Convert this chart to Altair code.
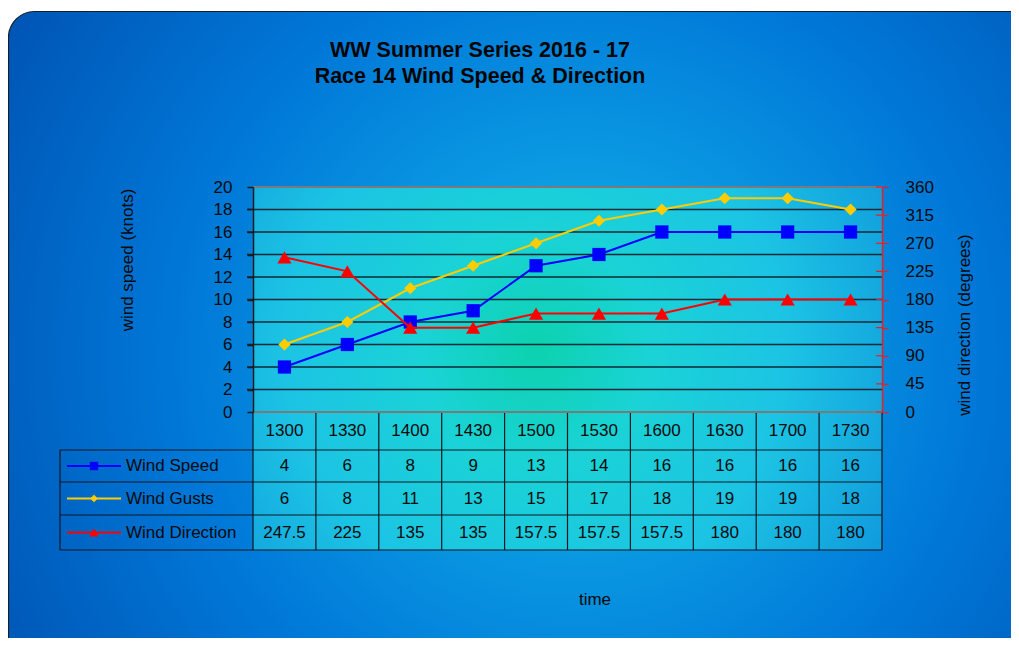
import altair as alt
import pandas as pd

# ---------------- data ----------------
times = ["1300", "1330", "1400", "1430", "1500", "1530", "1600", "1630", "1700", "1730"]
wind_speed = [4, 6, 8, 9, 13, 14, 16, 16, 16, 16]
wind_gusts = [6, 8, 11, 13, 15, 17, 18, 19, 19, 18]
wind_dir = [247.5, 225, 135, 135, 157.5, 157.5, 157.5, 180, 180, 180]
speed_ticks = [0, 2, 4, 6, 8, 10, 12, 14, 16, 18, 20]
dir_ticks = [0, 45, 90, 135, 180, 225, 270, 315, 360]
title_lines = ["WW Summer Series 2016 -  17", "Race 14 Wind Speed & Direction"]
series_names = ["Wind Speed", "Wind Gusts", "Wind Direction"]
y_title_left = "wind speed (knots)"
y_title_right = "wind direction (degrees)"
x_title = "time"

n = len(times)
df = pd.DataFrame({"idx": list(range(n)), "time": times, "speed": wind_speed,
                   "gusts": wind_gusts, "dir": wind_dir})

# ---------------- layout / style ----------------
W, H = 629, 225
TB = 363
FONT = "Liberation Sans"
BLUE, YELLOW, RED = "#0000ff", "#ffcc00", "#ff0000"
GRID = "#0e2a36"
one = pd.DataFrame({"a": [0]})

xscale = alt.Scale(domain=[-0.5, n - 0.5], nice=False, zero=False)
xenc = alt.X("idx:Q", scale=xscale, axis=None)

left_scale = alt.Scale(domain=[0, 20], nice=False)
left_axis = alt.Axis(values=speed_ticks, title=None, grid=False, domainColor="#1a1a1a",
                     domainWidth=1.5, tickColor="#1a1a1a", tickSize=6, tickWidth=1.5,
                     labelFont=FONT, labelFontSize=17, labelColor="#0a0a0a",
                     labelPadding=15, zindex=1)
dir_scale = alt.Scale(domain=[0, 360], nice=False)
right_axis = alt.Axis(orient="right", values=dir_ticks, title=None, grid=False,
                      domainColor="#f01e1e", domainWidth=1.5, tickColor="#f01e1e",
                      tickSize=6, tickWidth=1.2, labelFont=FONT, labelFontSize=17,
                      labelColor="#0a0a0a", labelPadding=17, zindex=1)

# ---------------- backgrounds ----------------
bg = alt.Chart(one).mark_rect(
    cornerRadius=26, stroke="#16202c", strokeWidth=1.2,
    fill=alt.RadialGradient(gradient="radial", x1=0.53, y1=0.5, r1=0, x2=0.53, y2=0.5, r2=0.62,
                            stops=[alt.GradientStop(offset=0, color="#1cbcea"),
                                   alt.GradientStop(offset=0.28, color="#0a9ae2"),
                                   alt.GradientStop(offset=0.6, color="#0078d8"),
                                   alt.GradientStop(offset=1, color="#0054b4")])
).encode(x=alt.value(-244.5), x2=alt.value(W + 200), y=alt.value(-175.5), y2=alt.value(TB + 150))

plotfill = alt.Chart(one).mark_rect(
    fill=alt.RadialGradient(gradient="radial", x1=0.45, y1=0.47, r1=0, x2=0.45, y2=0.47, r2=0.72,
                            stops=[alt.GradientStop(offset=0, color="#0cd2ae"),
                                   alt.GradientStop(offset=0.25, color="#1ad3d6"),
                                   alt.GradientStop(offset=0.55, color="#1cc4e4"),
                                   alt.GradientStop(offset=1, color="#0c8cda")])
).encode(x=alt.value(0), x2=alt.value(W), y=alt.value(0), y2=alt.value(TB))

# ---------------- left (speed) layer ----------------
grid = alt.Chart(pd.DataFrame({"v": speed_ticks[1:-1]})).mark_rule(color=GRID, strokeWidth=1.5).encode(
    x=alt.value(-6), x2=alt.value(W), y=alt.Y("v:Q", scale=left_scale, axis=left_axis))
border = alt.Chart(pd.DataFrame({"v": [speed_ticks[0], speed_ticks[-1]]})).mark_rule(
    color="#7a7a7a", strokeWidth=2).encode(
    x=alt.value(0), x2=alt.value(W), y=alt.Y("v:Q", scale=left_scale, axis=left_axis))
speed = alt.Chart(df).mark_line(color=BLUE, strokeWidth=2,
                                point=alt.OverlayMarkDef(shape="square", size=175, filled=True,
                                                         color=BLUE, opacity=1)).encode(
    x=xenc, y=alt.Y("speed:Q", scale=left_scale, axis=left_axis))
gusts = alt.Chart(df).mark_line(color=YELLOW, strokeWidth=2,
                                point=alt.OverlayMarkDef(shape="diamond", size=150, filled=True,
                                                         color=YELLOW, opacity=1)).encode(
    x=xenc, y=alt.Y("gusts:Q", scale=left_scale, axis=left_axis))
left_layer = alt.layer(grid, border, speed, gusts)

# ---------------- right (direction) layer ----------------
rticks = alt.Chart(pd.DataFrame({"v": dir_ticks})).mark_rule(color="#f01e1e", strokeWidth=1.2).encode(
    x=alt.value(W - 6), x2=alt.value(W), y=alt.Y("v:Q", scale=dir_scale, axis=right_axis))
direction = alt.Chart(df).mark_line(color=RED, strokeWidth=2,
                                    point=alt.OverlayMarkDef(shape="triangle-up", size=200,
                                                             filled=True, color=RED, opacity=1)).encode(
    x=xenc, y=alt.Y("dir:Q", scale=dir_scale, axis=right_axis))
right_layer = alt.layer(rticks, direction)

# ---------------- data table ----------------
row_tops = [H, 263, 295, 328, TB]
row_mid = [(row_tops[i] + row_tops[i + 1]) / 2 for i in range(4)]
LEG_X = -193
TCOL = "#101820"

vlines = alt.Chart(pd.DataFrame({"b": [i - 0.5 for i in range(n + 1)]})).mark_rule(
    color=TCOL, strokeWidth=1.2).encode(
    x=alt.X("b:Q", scale=xscale, axis=None), y=alt.value(H), y2=alt.value(TB))
table_parts = [vlines]
for yy in row_tops[1:]:
    table_parts.append(alt.Chart(one).mark_rule(color=TCOL, strokeWidth=1.2).encode(
        x=alt.value(LEG_X), x2=alt.value(W), y=alt.value(yy)))
table_parts.append(alt.Chart(one).mark_rule(color=TCOL, strokeWidth=1.2).encode(
    x=alt.value(LEG_X), y=alt.value(row_tops[1]), y2=alt.value(TB)))

txt = dict(font=FONT, fontSize=17, color="#0a0a0a", baseline="middle", align="center")
table_parts.append(alt.Chart(df).mark_text(**txt).encode(x=xenc, y=alt.value(row_mid[0]), text="time:N"))
for i, (field, col, shape, sz) in enumerate([("speed", BLUE, "square", 70),
                                              ("gusts", YELLOW, "diamond", 60),
                                              ("dir", RED, "triangle-up", 90)]):
    ym = row_mid[i + 1]
    table_parts.append(alt.Chart(df).mark_text(**txt).encode(x=xenc, y=alt.value(ym), text=f"{field}:N"))
    table_parts.append(alt.Chart(one).mark_rule(color=col, strokeWidth=2).encode(
        x=alt.value(-186), x2=alt.value(-132), y=alt.value(ym)))
    table_parts.append(alt.Chart(one).mark_point(shape=shape, size=sz, filled=True, color=col,
                                                 opacity=1).encode(x=alt.value(-159), y=alt.value(ym)))
    table_parts.append(alt.Chart(pd.DataFrame({"s": [series_names[i]]})).mark_text(
        font=FONT, fontSize=17, color="#0a0a0a", baseline="middle", align="left").encode(
        x=alt.value(-127), y=alt.value(ym), text="s:N"))

# ---------------- titles ----------------
texts = []
for i, line in enumerate(title_lines):
    texts.append(alt.Chart(pd.DataFrame({"t": [line]})).mark_text(
        font=FONT, fontSize=21.5, fontWeight="bold", color="#050505", align="center",
        baseline="alphabetic").encode(x=alt.value(227), y=alt.value(-130 + 26 * i), text="t:N"))
texts.append(alt.Chart(pd.DataFrame({"t": [y_title_left]})).mark_text(
    font=FONT, fontSize=17, color="#0a0a0a", align="center", baseline="middle", angle=270).encode(
    x=alt.value(-125), y=alt.value(73), text="t:N"))
texts.append(alt.Chart(pd.DataFrame({"t": [y_title_right]})).mark_text(
    font=FONT, fontSize=17, color="#0a0a0a", align="center", baseline="middle", angle=270).encode(
    x=alt.value(712), y=alt.value(138), text="t:N"))
texts.append(alt.Chart(pd.DataFrame({"t": [x_title]})).mark_text(
    font=FONT, fontSize=17, color="#0a0a0a", align="center", baseline="middle").encode(
    x=alt.value(342), y=alt.value(413), text="t:N"))

chart = alt.layer(bg, plotfill, *table_parts, left_layer, right_layer, *texts).resolve_scale(
    y="independent"
).properties(
    width=W, height=H,
    autosize=alt.AutoSizeParams(type="none"),
    padding={"left": 245, "top": 179, "right": 129, "bottom": 226},
    background="white",
).configure_view(stroke=None)

chart.save("out.html", embed_options={"renderer": "svg", "actions": False})
